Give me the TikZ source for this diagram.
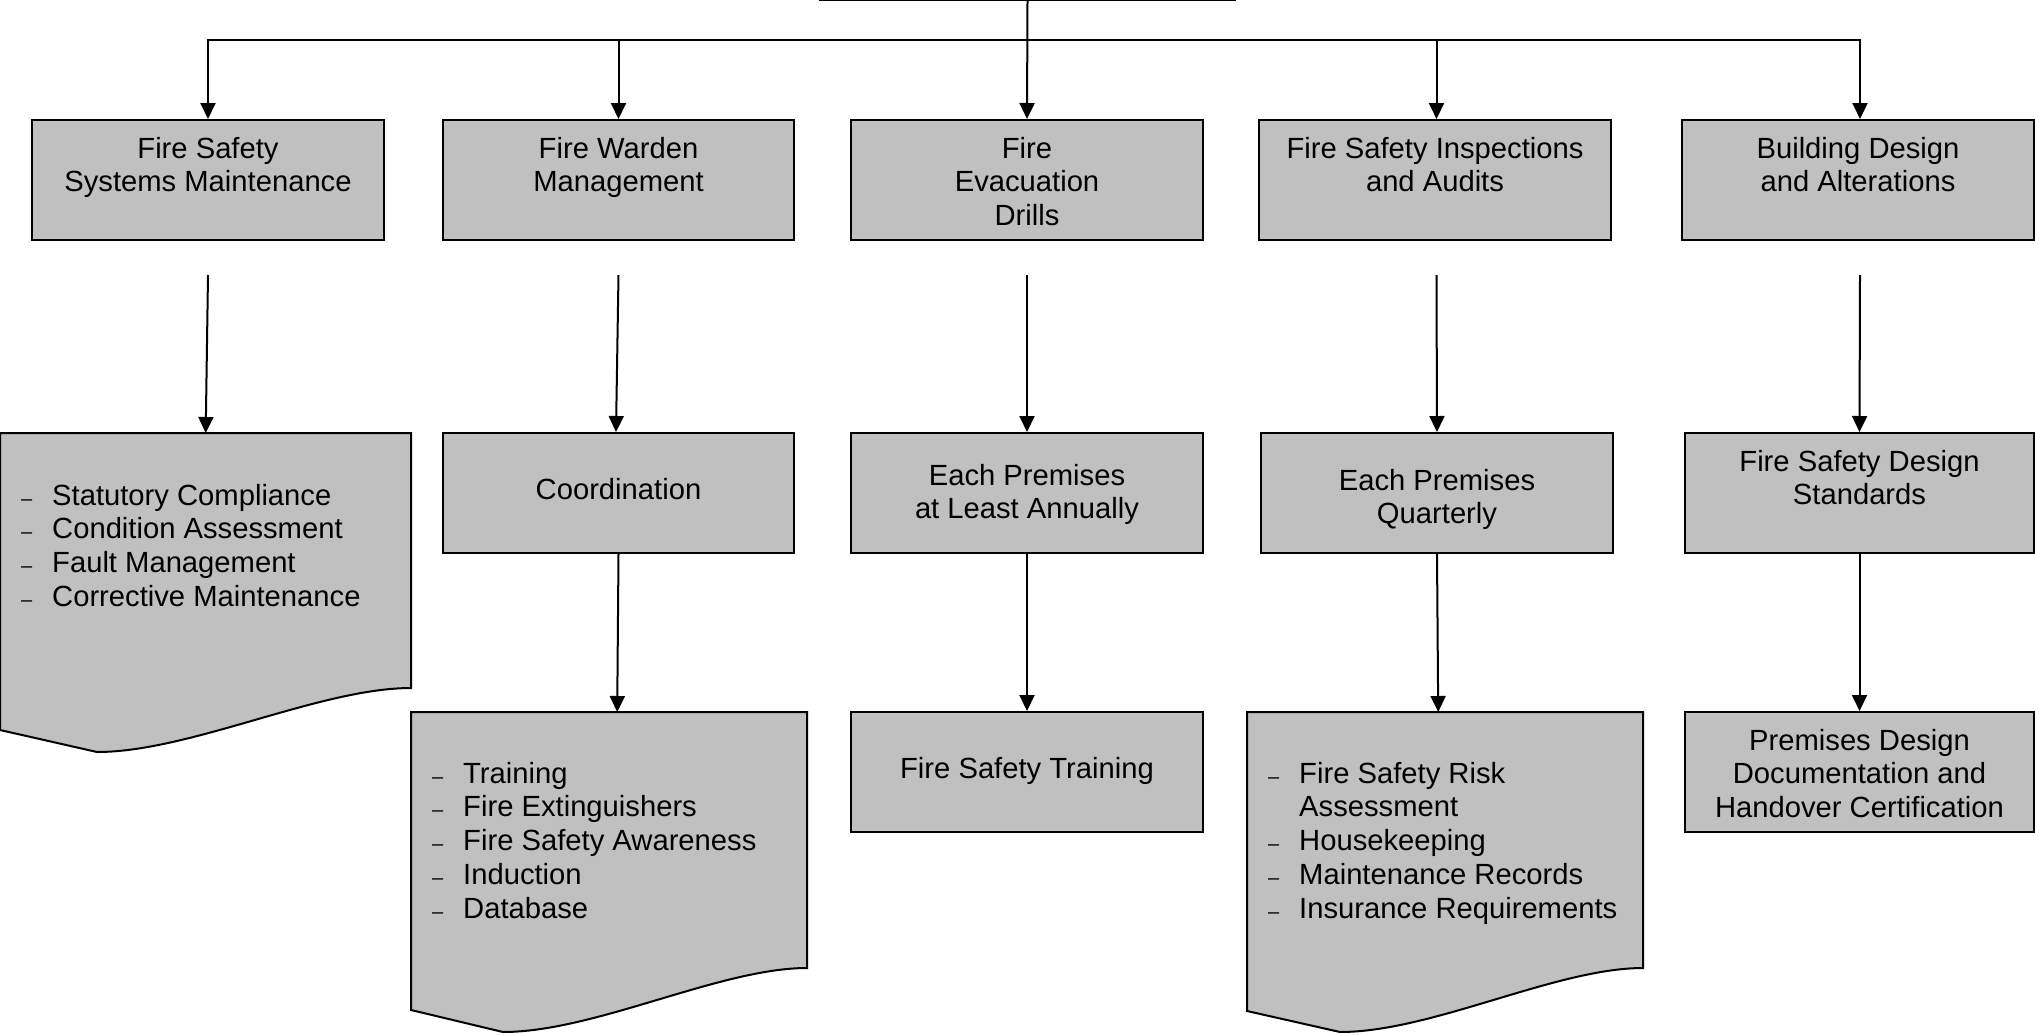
\documentclass[tikz,border=0pt]{standalone}
\usepackage{fontspec}
\setmainfont{Liberation Sans}
\usetikzlibrary{arrows.meta,calc}
\definecolor{boxgray}{HTML}{C0C0C0}
\newcommand\dashitem{\makebox[31pt][l]{\fontsize{20}{20}\selectfont –}}
\begin{document}
\begin{tikzpicture}[x=1pt,y=-1pt,
  box/.style={draw=black, fill=boxgray, line width=2pt, rectangle, inner sep=0pt, minimum height=120pt},
  docfill/.style={draw=black, fill=boxgray, line width=2pt, line join=miter},
  lbl/.style={inner sep=0pt, align=center, anchor=base, font=\fontsize{29.2}{33.8}\selectfont},
  lst/.style={inner sep=0pt, align=left, anchor=base west, font=\fontsize{29.2}{33.8}\selectfont},
  arr/.style={line width=2pt, -{Triangle[length=16pt,width=15pt]}},
  docanchor/.style={inner sep=0pt, minimum height=1pt, anchor=north west}
]
\useasboundingbox (0,0) rectangle (2035,1034);
\clip (0,0) rectangle (2035,1034);
\fill[white] (0,0) rectangle (2035,1034);

% root box (only its lower edge is visible)
\node[draw=black, line width=2pt, inner sep=0pt, minimum width=415pt, minimum height=100pt, anchor=south] (root) at (1027.5,0.8) {};

% top level boxes
\node[box, minimum width=352pt] (t1) at (208,180) {};
\node[box, minimum width=351pt] (t2) at (618.5,180) {};
\node[box, minimum width=352pt] (t3) at (1027,180) {};
\node[box, minimum width=352pt] (t4) at (1435,180) {};
\node[box, minimum width=352pt] (t5) at (1858,180) {};

% second row
\node[docanchor, minimum width=411pt] (d1) at (0,433) {};
\draw[docfill] (0,433) -- (411,433) -- (411,688) .. controls (320,688) and (190,752) .. (97,752) -- (0,730) -- cycle;
\node[box, minimum width=351pt] (s2) at (618.5,493) {};
\node[box, minimum width=352pt] (s3) at (1027,493) {};
\node[box, minimum width=352pt] (s4) at (1437,493) {};
\node[box, minimum width=349pt] (s5) at (1859.5,493) {};

% third row
\node[docanchor, minimum width=396pt] (d2) at (411,712) {};
\draw[docfill] (411,712) -- (807,712) -- (807,968) .. controls (720,968) and (595,1032) .. (503,1032) -- (411,1010) -- cycle;
\node[box, minimum width=352pt] (u3) at (1027,772) {};
\node[docanchor, minimum width=396pt] (d3) at (1247,712) {};
\draw[docfill] (1247,712) -- (1643,712) -- (1643,968) .. controls (1556,968) and (1432,1032) .. (1340,1032) -- (1247,1011) -- cycle;
\node[box, minimum width=349pt] (u5) at (1859.5,772) {};

% labels (anchor = baseline of the last line)
\node[lbl] (t1l) at (208,191.8) {Fire Safety\\Systems Maintenance};
\node[lbl] (t2l) at (618.5,191.8) {Fire Warden\\Management};
\node[lbl] (t3l) at (1027,225.6) {Fire\\Evacuation\\Drills};
\node[lbl] (t4l) at (1435,191.8) {Fire Safety Inspections\\and Audits};
\node[lbl] (t5l) at (1858,191.8) {Building Design\\and Alterations};

\node[lbl] (s2l) at (618.5,499) {Coordination};
\node[lbl] (s3l) at (1027,518.8) {Each Premises\\at Least Annually};
\node[lbl] (s4l) at (1437,523.8) {Each Premises\\Quarterly};
\node[lbl] (s5l) at (1859.5,504.8) {Fire Safety Design\\Standards};

\node[lbl] (u3l) at (1027,778) {Fire Safety Training};
\node[lbl] (u5l) at (1859.5,817.6) {Premises Design\\Documentation and\\Handover Certification};

\node[lst] (d1l) at (21,606.4) {\dashitem Statutory Compliance\\\dashitem Condition Assessment\\\dashitem Fault Management\\\dashitem Corrective Maintenance};
\node[lst] (d2l) at (432,918.2) {\dashitem Training\\\dashitem Fire Extinguishers\\\dashitem Fire Safety Awareness\\\dashitem Induction\\\dashitem Database};
\node[lst] (d3l) at (1268,918.2) {\dashitem Fire Safety Risk\\\hspace*{31pt}Assessment\\\dashitem Housekeeping\\\dashitem Maintenance Records\\\dashitem Insurance Requirements};

% connectors
\coordinate (bus) at (1027,40);
\draw[arr] (root.south) -- (t3.north);
\draw[arr] (bus) -| (t1.north);
\draw[arr] (bus) -| (t2.north);
\draw[arr] (bus) -| ($(t4.north)+(1.5,0)$);
\draw[arr] (bus) -| ($(t5.north)+(2,0)$);

\draw[arr] ($(t1.south)+(0,34)$) -- (d1.north);
\draw[arr] ($(t2.south)+(0,34)$) -- ($(s2.north)+(-2.5,0)$);
\draw[arr] ($(t3.south)+(0,34)$) -- (s3.north);
\draw[arr] ($(t4.south)+(1.5,34)$) -- (s4.north);
\draw[arr] ($(t5.south)+(2,34)$) -- (s5.north);

\draw[arr] (s2.south) -- ($(d2.north)+(8,0)$);
\draw[arr] (s3.south) -- (u3.north);
\draw[arr] (s4.south) -- ($(d3.north)+(-7,0)$);
\draw[arr] (s5.south) -- (u5.north);
\end{tikzpicture}
\end{document}
